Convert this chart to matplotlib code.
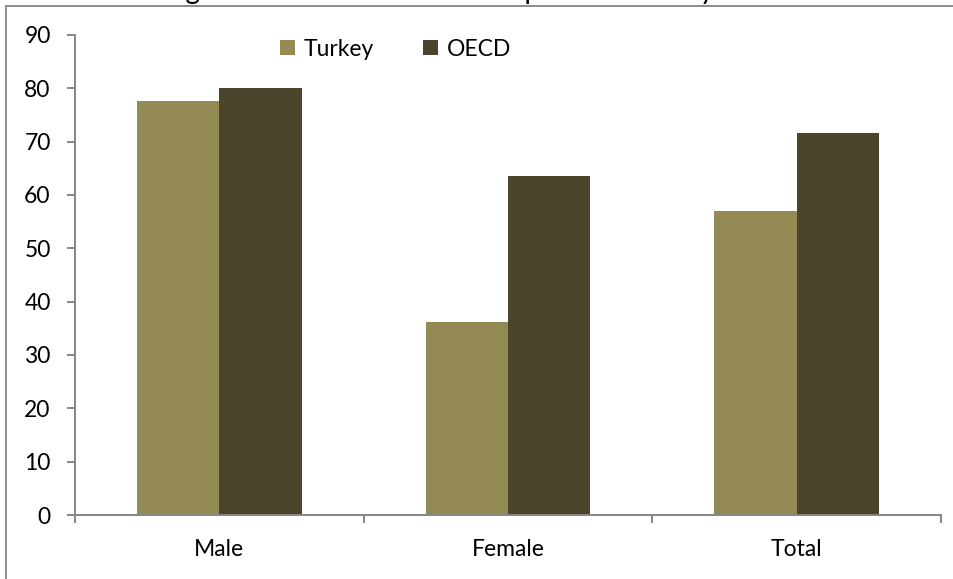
import matplotlib
matplotlib.use("Agg")
import matplotlib.pyplot as plt
from matplotlib.patches import Rectangle, Patch
from matplotlib.font_manager import FontProperties
import numpy as np

# Data
categories = ["Male", "Female", "Total"]
series_names = ["Turkey", "OECD"]
turkey = [77.6, 36.2, 57.0]
oecd = [80.0, 63.6, 71.7]
yticks = [0, 10, 20, 30, 40, 50, 60, 70, 80, 90]
title_text = "Figure 1. Labour Force Participation Rates by Gender"

colors = ["#948A54", "#4A452A"]
axis_gray = "#868686"
font = "Lato"

W, H = 954, 579
fig = plt.figure(figsize=(W / 100, H / 100), dpi=100)
fig.patch.set_facecolor("white")

# Outer chart frame (runs off the right and bottom edges)
frame = Rectangle((6 / W, -0.1), 1.2, 1 - 6 / H + 0.1, transform=fig.transFigure,
                  facecolor="none", edgecolor="#8c8c8c", linewidth=1.4, zorder=0)
fig.patches.append(frame)

# Title sitting above the top edge: size and offset chosen so the
# descenders of "Figure" and "by" fall at the wanted pixel columns
renderer = fig.canvas.get_renderer()
fp10 = FontProperties(family=font, size=10)


def text_w(s):
    return renderer.get_text_width_height_descent(s, fp10, ismath=False)[0]


g_idx = title_text.index("g")
y_idx = title_text.index("by") + 1
g_mid = (text_w(title_text[:g_idx]) + text_w(title_text[:g_idx + 1])) / 2
y_mid = (text_w(title_text[:y_idx]) + text_w(title_text[:y_idx + 1])) / 2 - 1.5
g_px, y_px = 192.0, 703.0
scale = (y_px - g_px) / (y_mid - g_mid)
title_size = 10 * scale
x0 = g_px - g_mid * scale
fig.text(x0 / W, 1 + 1.0 / H, title_text, ha="left", va="baseline",
         fontsize=title_size, family=font, color="black")

ax = fig.add_axes([75 / W, 1 - 515 / H, (941 - 75) / W, (515 - 35) / H])

x = np.arange(len(categories))
bw = 1 / 3.5
ax.bar(x - bw / 2, turkey, width=bw, color=colors[0], linewidth=0, zorder=2)
ax.bar(x + bw / 2, oecd, width=bw, color=colors[1], linewidth=0, zorder=2)

ax.set_xlim(-0.5, len(categories) - 0.5)
ax.set_ylim(0, 90)
ax.set_yticks(yticks)
ax.set_yticklabels([str(v) for v in yticks])

ax.set_xticks(x)
ax.set_xticklabels(categories)
ax.set_xticks(np.arange(len(categories) + 1) - 0.5, minor=True)

for s in ["top", "right"]:
    ax.spines[s].set_visible(False)
for s in ["left", "bottom"]:
    ax.spines[s].set_color(axis_gray)
    ax.spines[s].set_linewidth(1.4)

ax.tick_params(axis="y", which="major", length=5.5, width=1.4, color=axis_gray,
               pad=12, labelsize=16.5)
ax.tick_params(axis="x", which="major", length=0, pad=17, labelsize=16.5)
ax.tick_params(axis="x", which="minor", length=6, width=1.4, color=axis_gray)
for lab in ax.get_xticklabels() + ax.get_yticklabels():
    lab.set_family(font)

handles = [Patch(facecolor=c, edgecolor="none") for c in colors]
leg = fig.legend(handles, series_names, loc="center left",
                 bbox_to_anchor=(280.5 / W, 1 - 49 / H), ncol=2, frameon=False,
                 handlelength=0.62, handleheight=0.62, handletextpad=0.4,
                 columnspacing=2.15, borderpad=0, borderaxespad=0,
                 prop={"family": font, "size": 16.5})

fig.savefig("out.png", dpi=100, facecolor="white")
